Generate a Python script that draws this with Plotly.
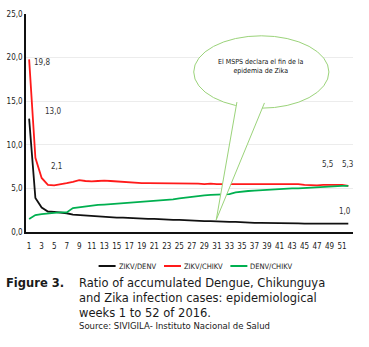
import plotly.graph_objects as go

# epidemiological weeks 2016
weeks = list(range(1, 53))

zikv_denv = [13.0, 3.9, 2.8, 2.35, 2.3, 2.25, 2.15, 2.0, 1.95, 1.9,
             1.85, 1.75, 1.7, 1.7, 1.65, 1.65, 1.6, 1.55, 1.5, 1.5,
             1.5, 1.45, 1.45, 1.4, 1.4, 1.35, 1.35, 1.3, 1.25, 1.25,
             1.2, 1.2, 1.15, 1.15, 1.1, 1.05, 1.05, 1.05, 1.05, 1.05,
             1.05, 1.0, 1.0, 1.0, 0.95, 0.95, 0.95, 0.95, 0.95, 0.95,
             0.95, 0.95]

zikv_chikv = [19.8, 8.5, 6.2, 5.4, 5.35, 5.45, 5.6, 5.75, 5.95, 5.85,
              5.8, 5.85, 5.9, 5.85, 5.8, 5.7, 5.7, 5.65, 5.6, 5.6,
              5.6, 5.6, 5.6, 5.6, 5.6, 5.6, 5.6, 5.55, 5.5, 5.55,
              5.5, 5.5, 5.5, 5.5, 5.5, 5.5, 5.5, 5.5, 5.5, 5.5,
              5.5, 5.5, 5.5, 5.5, 5.4, 5.35, 5.35, 5.4, 5.4, 5.45,
              5.4, 5.3]

denv_chikv = [1.5, 1.95, 2.05, 2.15, 2.2, 2.25, 2.25, 2.75, 2.85, 2.95,
              3.0, 3.1, 3.15, 3.2, 3.25, 3.3, 3.35, 3.4, 3.5, 3.55,
              3.6, 3.65, 3.7, 3.75, 3.85, 3.95, 4.05, 4.15, 4.2, 4.25,
              4.3, 4.3, 4.35, 4.55, 4.65, 4.7, 4.75, 4.8, 4.85, 4.9,
              4.9, 4.95, 5.0, 5.0, 5.05, 5.1, 5.1, 5.15, 5.2, 5.25,
              5.3, 5.3]

series_names = ["ZIKV/DENV", "ZIKV/CHIKV", "DENV/CHIKV"]
series_colors = ["#111111", "#ff1a1a", "#00b050"]

# value labels shown on the chart
lbl_text = ["19,8", "13,0", "2,1", "5,5", "5,3", "1,0"]
lbl_x = [3.1, 4.8, 5.4, 48.6, 51.8, 51.5]
lbl_y = [19.4, 13.8, 7.5, 7.7, 7.7, 2.4]

x_ticks = list(range(1, 53, 2))

narrow = "DejaVu Sans Condensed, Liberation Sans"

fig = go.Figure()
for vals, name, col in zip([zikv_denv, zikv_chikv, denv_chikv], series_names, series_colors):
    fig.add_trace(go.Scatter(x=weeks, y=vals, name=name, mode="lines",
                             line=dict(color=col, width=1.8)))

for t, x, y in zip(lbl_text, lbl_x, lbl_y):
    fig.add_annotation(x=x, y=y, text=t, showarrow=False,
                       font=dict(size=8, color="#333333", family=narrow))

# speech bubble
fig.add_shape(type="circle", xref="x", yref="y", x0=27.3, x1=48.9, y0=14.2, y1=22.5,
              line=dict(color="#9bd37a", width=1), fillcolor="white", layer="above")
fig.add_shape(type="path", xref="x", yref="y",
              path="M 34.2 14.9 L 30.9 1.4 L 38.6 14.8",
              line=dict(color="#9bd37a", width=1), fillcolor="white", layer="above")
fig.add_annotation(x=38.1, y=19.0, text="El MSPS declara el fin de la<br>epidemia de Zika",
                   showarrow=False, font=dict(size=7, color="#111111", family=narrow))

# legend drawn by hand (plotly's own one is too wide here)
leg_x = [0.222, 0.422, 0.625]
for lx, name, col in zip(leg_x, series_names, series_colors):
    fig.add_shape(type="line", xref="paper", yref="paper", x0=lx, x1=lx + 0.052,
                  y0=-0.156, y1=-0.156, line=dict(color=col, width=2))
    fig.add_annotation(xref="paper", yref="paper", x=lx + 0.055, y=-0.156,
                       xanchor="left", yanchor="middle", text=name, showarrow=False,
                       font=dict(size=7.5, color="#222222", family=narrow))

# caption
cap = "#1a1a1a"
fig.add_annotation(xref="paper", yref="paper", x=-0.067, y=-0.235, xanchor="left",
                   yanchor="middle", text="<b>Figure 3.</b>", showarrow=False,
                   font=dict(size=11.5, color=cap, family="DejaVu Sans"))
cap_lines = ["Ratio of accumulated Dengue, Chikunguya",
             "and Zika infection cases: epidemiological",
             "weeks 1 to 52 of 2016."]
for i, ln in enumerate(cap_lines):
    fig.add_annotation(xref="paper", yref="paper", x=0.155, y=-0.235 - i * 0.069,
                       xanchor="left", yanchor="middle", text=ln, showarrow=False,
                       font=dict(size=11.5, color=cap, family="DejaVu Sans"))
fig.add_annotation(xref="paper", yref="paper", x=0.155, y=-0.43, xanchor="left",
                   yanchor="middle", text="Source: SIVIGILA- Instituto Nacional de Salud",
                   showarrow=False, font=dict(size=8.5, color=cap, family="DejaVu Sans"))

fig.update_layout(
    width=369, height=347,
    margin=dict(l=26, r=16, t=14, b=115, autoexpand=False),
    paper_bgcolor="white", plot_bgcolor="white",
    separators=",.",
    showlegend=False,
)
fig.update_xaxes(range=[0.5, 52.75], tickvals=x_ticks, showgrid=False, automargin=False,
                 showline=True, linecolor="#111111", linewidth=1.5,
                 ticks="", ticklabelstandoff=6,
                 tickfont=dict(size=8, family=narrow, color="#222222"))
fig.update_yaxes(range=[0, 25], dtick=5, tickformat=".1f", showgrid=True, automargin=False,
                 gridcolor="#ececec", gridwidth=1, zeroline=False,
                 showline=True, linecolor="#111111", linewidth=1.5,
                 ticks="", tickfont=dict(size=8, family=narrow, color="#222222"))

# drop the default page margin so the figure starts at the top-left corner
fig.write_html("out.html", config={"displayModeBar": False},
               post_script="document.body.style.margin='0';")
